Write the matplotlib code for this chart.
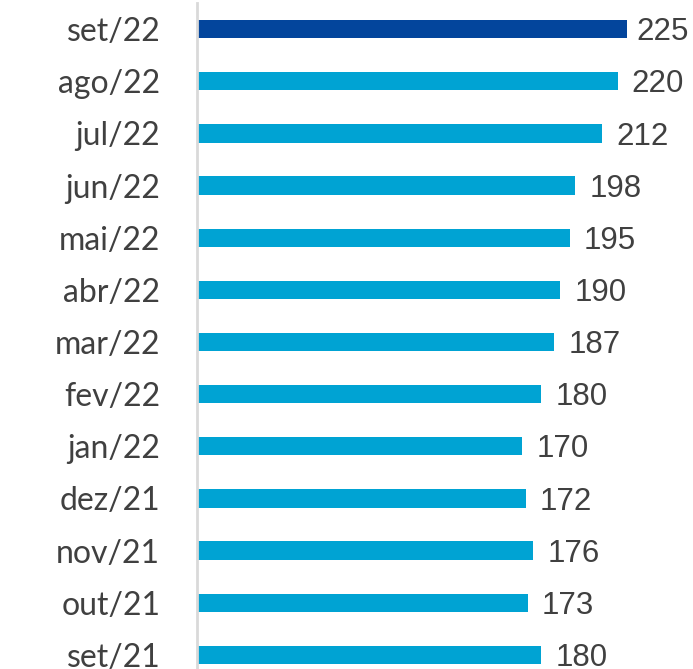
import matplotlib.pyplot as plt

plt.rcParams['font.family'] = ['Liberation Sans', 'DejaVu Sans']

# data, bottom to top
months = ["set/21", "out/21", "nov/21", "dez/21", "jan/22", "fev/22", "mar/22",
          "abr/22", "mai/22", "jun/22", "jul/22", "ago/22", "set/22"]
values = [180, 173, 176, 172, 170, 180, 187, 190, 195, 198, 212, 220, 225]

LIGHT = "#00A3D3"
DARK = "#03459C"
TEXT = "#404040"

fig = plt.figure(figsize=(6.93, 6.69), dpi=100)
ax = fig.add_axes([197 / 693, 0, 1 - 197 / 693, 666 / 669])

pos = list(range(len(months)))
colors = [LIGHT] * (len(months) - 1) + [DARK]
ax.barh(pos, values, height=0.35, color=colors)

for y, v in zip(pos, values):
    off = 5 if v == max(values) else 7.5
    ax.text(v + off, y - 0.06, str(v), va="center", ha="left",
            fontsize=22.5, color=TEXT, family=["Liberation Sans", "DejaVu Sans"])

ax.set_xlim(0, 259.5)
ax.set_ylim(-0.27, 12.5)
ax.set_yticks(pos)
ax.set_yticklabels(months, fontsize=23, color=TEXT, family=["Lato", "DejaVu Sans"])
ax.tick_params(axis="y", length=0, pad=26.5)
ax.set_xticks([])

for side in ["top", "right", "bottom"]:
    ax.spines[side].set_visible(False)
ax.spines["left"].set_color("#D9D9D9")
ax.spines["left"].set_linewidth(2)

fig.savefig("out.png", dpi=100)
